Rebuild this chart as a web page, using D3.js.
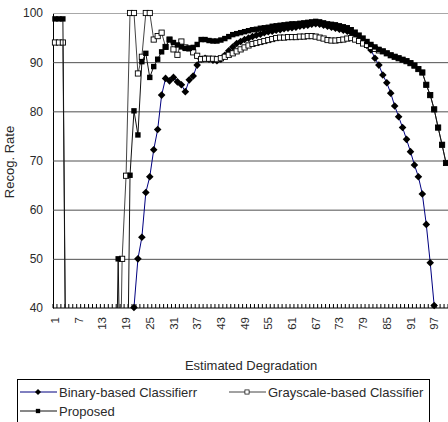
<!DOCTYPE html>
<html>
<head>
<meta charset="utf-8">
<script src="https://cdn.jsdelivr.net/npm/d3@7"></script>
<style>
  body { margin: 0; background: #fff; }
  text { font-family: "Liberation Sans", Arial, sans-serif; fill: #2a2a2a; }
</style>
</head>
<body>
<div id="viz"></div>
<script>
// DATA (values below 40 fall under the axis and are clipped)
var categories = d3.range(1, 101);
var tickLabels = [1, 7, 13, 19, 25, 31, 37, 43, 49, 55, 61, 67, 73, 79, 85, 91, 97];
var yTicks = [40, 50, 60, 70, 80, 90, 100];

var binary = [
  0, 0, 0, 0, 0, 0, 0, 0, 0, 0,
  0, 0, 0, 0, 0, 0, 0, 0, 0, 0,
  40.1, 50, 54.4, 63.5, 66.7, 72.2, 76.3, 83.3, 86.7, 86.2,
  86.9, 86.0, 85.4, 84.0, 86.4, 87.2, 89.4, 90.6, 90.8, 90.6,
  90.4, 90.3, 90.6, 91.4, 92.3, 93.1, 93.8, 94.2, 94.6, 94.9,
  95.2, 95.5, 95.7, 96.0, 96.2, 96.3, 96.5, 96.6, 96.8, 96.9,
  97.0, 97.1, 97.3, 97.4, 97.5, 97.7, 97.8, 97.7, 97.5, 97.3,
  97.1, 96.9, 96.7, 96.5, 96.3, 96.0, 95.6, 95.0, 94.2, 93.4,
  92.5, 90.8, 89.4, 87.4, 85.8, 83.7, 81.1, 78.9, 76.7, 74.3,
  71.8, 69.1, 66.7, 63.2, 57.0, 49.2, 40.5, 0, 0, 0
];

var grayscale = [
  94, 94, 94, 0, 0, 0, 0, 0, 0, 0,
  0, 0, 0, 0, 0, 0, 0, 50, 66.9, 100,
  100, 87.7, 91.1, 100, 100, 94.6, 95.3, 96.0, 93.1, 94.6,
  92.6, 91.5, 94.2, 93.0, 92.8, 92.0, 91.3, 90.6, 90.7, 90.7,
  90.7, 90.6, 90.8, 91.1, 91.5, 91.8, 92.2, 92.6, 93.0, 93.4,
  93.7, 93.9, 94.1, 94.3, 94.5, 94.7, 94.9, 95.0, 95.0, 95.1,
  95.1, 95.1, 95.2, 95.2, 95.3, 95.3, 95.2, 95.0, 94.8, 94.5,
  94.4, 94.4, 94.5, 94.6, 94.8, 94.9, 94.6, 94.3, 93.8, 93.5,
  93.1, 92.7, 92.4, 92.2, 91.8, 91.4, 91.1, 90.8, 90.5, 90.2,
  89.8, 89.3, 88.6, 87.9, 85.4, 83.3, 80.4, 76.7, 73.2, 69.5
];

var proposed = [
  98.8, 98.8, 98.8, 0, 0, 0, 0, 0, 0, 0,
  0, 0, 0, 0, 0, 0, 50, 0, 0, 67,
  80.1, 75.2, 90.1, 91.8, 86.9, 89.1, 90.6, 92.1, 93.1, 94.6,
  94.0, 93.5, 93.1, 92.8, 92.8, 93.0, 93.6, 94.6, 94.6, 94.4,
  94.3, 94.3, 94.5, 94.8, 95.2, 95.6, 95.8, 96.0, 96.2, 96.4,
  96.6, 96.7, 96.9, 97.0, 97.1, 97.3, 97.4, 97.5, 97.6, 97.7,
  97.8, 97.8, 97.9, 98.0, 98.1, 98.2, 98.3, 98.2, 98.0, 97.8,
  97.7, 97.6, 97.4, 97.2, 97.0, 96.6, 96.1, 95.5, 94.9, 94.2,
  93.6, 93.1, 92.6, 92.2, 91.8, 91.4, 91.1, 90.8, 90.5, 90.2,
  89.8, 89.3, 88.6, 87.9, 85.4, 83.3, 80.4, 76.7, 73.2, 69.5
];

var series = [
  {name: "Binary-based Classifierr", values: binary, line: "#000080", marker: "diamond"},
  {name: "Grayscale-based Classifier", values: grayscale, line: "#444", marker: "open"},
  {name: "Proposed", values: proposed, line: "#111", marker: "square"}
];

// DIMENSIONS
var w = 448, h = 422;
var plotL = 53, plotR = 448, plotT = 13, plotB = 308;

var svg = d3.select("#viz").append("svg")
  .attr("width", w)
  .attr("height", h);

var x = d3.scalePoint()
  .domain(categories)
  .range([plotL, plotR])
  .padding(0.5);

var y = d3.scaleLinear()
  .domain([40, 100])
  .range([plotB, plotT]);

svg.append("clipPath").attr("id", "plotClip")
  .append("rect")
  .attr("x", plotL).attr("y", plotT - 3)
  .attr("width", plotR - plotL).attr("height", plotB - plotT + 3);

// GRID + Y AXIS
var yAxis = svg.append("g")
  .attr("transform", "translate(" + plotL + ",0)")
  .call(d3.axisLeft(y).tickValues(yTicks).tickSize(-(plotR - plotL)).tickSizeOuter(0).tickPadding(10));

yAxis.select(".domain").attr("stroke", "#000");
yAxis.selectAll(".tick line")
  .attr("stroke", function(d) { return d === 100 ? "#a8a8a8" : (d === 40 ? "none" : "#505050"); });
yAxis.selectAll(".tick text")
  .style("font-size", "12px")
  .attr("fill", "#2a2a2a");

// X AXIS
var step = x.step();
svg.append("line")
  .attr("x1", plotL).attr("x2", plotR)
  .attr("y1", plotB).attr("y2", plotB)
  .attr("stroke", "#000");

svg.append("g").selectAll("line")
  .data(d3.range(0, categories.length + 1))
  .enter().append("line")
  .attr("x1", function(k) { return plotL + k * step; })
  .attr("x2", function(k) { return plotL + k * step; })
  .attr("y1", plotB).attr("y2", plotB - 4)
  .attr("stroke", "#000");

svg.append("g").selectAll("text")
  .data(tickLabels)
  .enter().append("text")
  .attr("transform", function(d) { return "translate(" + x(d) + "," + (plotB + 9) + ") rotate(-90)"; })
  .attr("text-anchor", "end")
  .attr("dy", "0.35em")
  .style("font-size", "11.5px")
  .text(function(d) { return d; });

// TITLES
svg.append("text")
  .attr("x", 251).attr("y", 370)
  .attr("text-anchor", "middle")
  .style("font-size", "13px")
  .text("Estimated Degradation");

svg.append("text")
  .attr("transform", "translate(14,162) rotate(-90)")
  .attr("text-anchor", "middle")
  .style("font-size", "13px")
  .text("Recog. Rate");

// SERIES
function marker(sel, type) {
  if (type === "diamond") {
    sel.append("path").attr("d", "M0,-3.8L3.8,0L0,3.8L-3.8,0Z").attr("fill", "#000");
  } else if (type === "square") {
    sel.append("rect").attr("x", -2.7).attr("y", -2.7).attr("width", 5.4).attr("height", 5.4).attr("fill", "#000");
  } else {
    sel.append("rect").attr("x", -2.6).attr("y", -2.6).attr("width", 5.2).attr("height", 5.2)
      .attr("fill", "#fff").attr("stroke", "#000").attr("stroke-width", 0.9);
  }
}

var line = d3.line()
  .x(function(d, i) { return x(categories[i]); })
  .y(function(d) { return y(d); });

series.forEach(function(s) {
  var g = svg.append("g");
  g.append("path")
    .attr("d", line(s.values))
    .attr("clip-path", "url(#plotClip)")
    .attr("fill", "none")
    .attr("stroke", s.line)
    .attr("stroke-width", 1);

  var pts = s.values.map(function(v, i) { return {c: categories[i], v: v}; })
    .filter(function(d) { return d.v >= 40; });

  g.selectAll("g.m")
    .data(pts)
    .enter().append("g")
    .attr("class", "m")
    .attr("transform", function(d) { return "translate(" + x(d.c) + "," + y(d.v) + ")"; })
    .each(function() { marker(d3.select(this), s.marker); });
});

// LEGEND
svg.append("rect")
  .attr("x", 17.5).attr("y", 379.5)
  .attr("width", 412).attr("height", 60)
  .attr("fill", "#fff").attr("stroke", "#000");

var legendPos = [[20, 392], [229, 392], [20, 411]];
series.forEach(function(s, i) {
  var lg = svg.append("g").attr("transform", "translate(" + legendPos[i][0] + "," + legendPos[i][1] + ")");
  lg.append("line").attr("x1", 0).attr("x2", 37).attr("stroke", s.line);
  var m = lg.append("g").attr("transform", "translate(18,0) scale(0.8)");
  marker(m, s.marker);
  lg.append("text")
    .attr("x", 39).attr("dy", "0.35em")
    .style("font-size", "13px")
    .text(s.name);
});
</script>
</body>
</html>
